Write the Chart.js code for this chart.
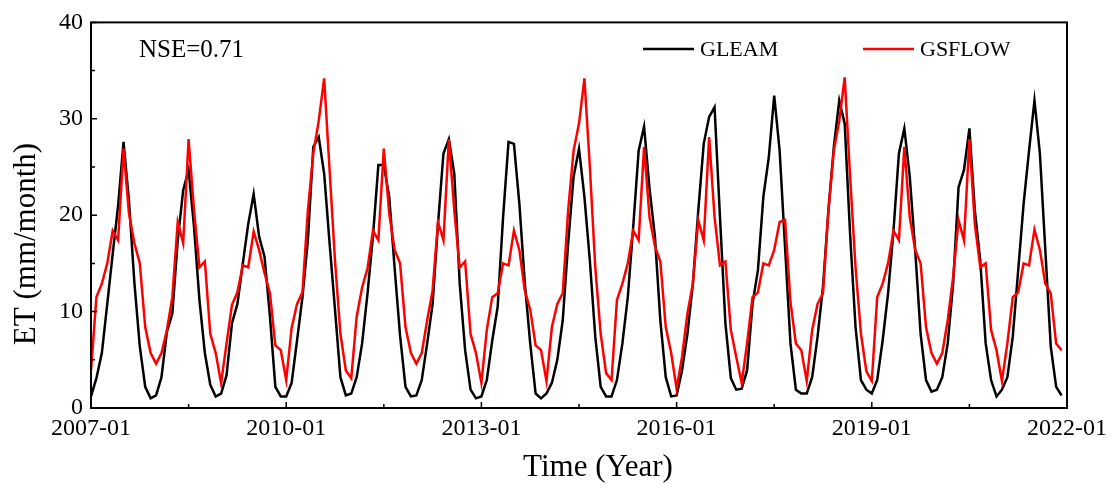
<!DOCTYPE html>
<html>
<head>
<meta charset="utf-8">
<title>ET GLEAM vs GSFLOW</title>
<script src="https://cdn.jsdelivr.net/npm/chart.js@4.4.1/dist/chart.umd.min.js"></script>
<style>
  html, body { margin: 0; padding: 0; background: #fff; }
  #wrap { width: 1113px; height: 488px; }
</style>
</head>
<body>
<div id="wrap"><canvas id="etChart" width="1113" height="488"></canvas></div>
<script>
// Monthly ET (mm/month), 2007-01 .. 2021-12, one row per year
const gleam = [
  1.2, 3.1, 5.7, 10.8, 16.0, 21.0, 27.6, 21.5, 13.0, 6.4, 2.2, 1.0,   // 2007
  1.3, 3.2, 7.9, 9.8, 17.4, 22.6, 24.7, 18.8, 11.2, 5.7, 2.4, 1.2,    // 2008
  1.5, 3.4, 8.8, 10.8, 15.0, 19.1, 22.2, 17.8, 15.7, 9.5, 2.2, 1.2,   // 2009
  1.2, 2.6, 7.0, 11.5, 17.4, 27.1, 28.1, 24.3, 17.1, 10.2, 3.2, 1.3,  // 2010
  1.5, 3.2, 6.7, 11.9, 17.8, 25.2, 25.2, 21.9, 14.5, 7.5, 2.2, 1.2,   // 2011
  1.3, 2.9, 6.7, 10.8, 19.1, 26.4, 27.9, 24.3, 12.9, 6.0, 1.9, 1.0,   // 2012
  1.2, 2.9, 7.0, 10.5, 19.8, 27.6, 27.4, 21.2, 13.0, 6.7, 1.5, 1.0,   // 2013
  1.5, 2.6, 5.0, 9.1, 17.1, 24.0, 26.9, 21.9, 15.3, 7.4, 2.2, 1.2,    // 2014
  1.2, 2.9, 6.7, 11.5, 18.8, 26.7, 29.2, 22.8, 17.8, 9.1, 3.2, 1.2,   // 2015
  1.3, 3.9, 7.7, 12.9, 20.5, 27.4, 30.2, 31.2, 19.8, 8.8, 3.1, 1.9,   // 2016
  2.0, 3.9, 10.8, 14.3, 21.9, 26.0, 32.4, 26.7, 16.7, 6.7, 1.9, 1.5,  // 2017
  1.5, 3.2, 7.4, 12.6, 20.5, 27.1, 31.9, 29.5, 18.0, 8.4, 2.9, 1.9,   // 2018
  1.5, 2.9, 7.0, 11.9, 18.4, 26.4, 29.0, 24.0, 16.4, 7.7, 2.9, 1.7,   // 2019
  1.9, 3.2, 6.7, 12.9, 22.9, 24.7, 29.0, 20.5, 15.3, 6.7, 2.9, 1.2,   // 2020
  1.9, 3.2, 7.4, 14.3, 21.2, 26.7, 31.9, 26.4, 16.4, 6.4, 2.2, 1.3    // 2021
];

const gsflow = [
  3.9, 11.5, 12.9, 15.0, 18.4, 17.4, 26.9, 20.2, 17.1, 15.0, 8.4, 5.7,  // 2007
  4.6, 5.7, 8.1, 11.5, 19.3, 17.1, 27.9, 20.5, 14.6, 15.2, 7.7, 5.7,    // 2008
  2.6, 6.7, 10.7, 12.0, 14.8, 14.6, 18.3, 16.4, 14.0, 11.9, 6.5, 6.0,   // 2009
  2.9, 8.3, 10.8, 12.0, 20.5, 26.4, 29.8, 34.2, 24.7, 15.3, 7.7, 3.9,   // 2010
  3.1, 9.5, 12.5, 14.5, 18.4, 17.4, 26.9, 20.2, 16.4, 15.0, 8.4, 5.7,   // 2011
  4.6, 5.7, 9.1, 12.2, 19.3, 17.4, 27.9, 20.5, 14.6, 15.2, 7.7, 5.7,    // 2012
  2.6, 8.1, 11.5, 11.9, 15.0, 14.8, 18.4, 16.4, 12.2, 10.2, 6.5, 6.0,   // 2013
  2.8, 8.4, 10.8, 11.9, 20.5, 26.7, 29.5, 34.2, 25.0, 14.6, 7.7, 3.6,   // 2014
  2.9, 11.2, 12.9, 15.0, 18.4, 17.4, 27.1, 19.8, 16.8, 15.2, 8.4, 5.7,  // 2015
  2.0, 5.3, 9.8, 12.9, 19.5, 17.4, 28.1, 19.8, 14.8, 15.2, 8.1, 5.3,    // 2016
  2.6, 6.7, 11.5, 12.0, 15.0, 14.8, 16.4, 19.3, 19.5, 11.0, 6.7, 6.0,   // 2017
  2.8, 8.1, 10.8, 11.9, 20.5, 26.7, 29.8, 34.3, 24.0, 14.6, 7.7, 3.8,   // 2018
  2.8, 11.5, 12.9, 15.0, 18.4, 17.4, 27.1, 19.8, 16.4, 15.0, 8.4, 5.7,  // 2019
  4.6, 5.7, 9.1, 13.6, 19.5, 17.4, 27.9, 19.1, 14.6, 15.0, 8.1, 6.0,    // 2020
  2.8, 6.7, 11.5, 12.0, 15.0, 14.8, 18.5, 16.4, 12.9, 11.9, 6.7, 6.0    // 2021
];

// x axis is month index from 2007-01; labels every 3 years
const tickLabels = ['2007-01', '2010-01', '2013-01', '2016-01', '2019-01', '2022-01'];
const xMajor = [0, 36, 72, 108, 144, 180];
const xMinor = [18, 54, 90, 126, 162];
const yMajor = [0, 10, 20, 30, 40];
const yMinor = [5, 15, 25, 35];
const nseText = 'NSE=0.71';

const serif = '"Liberation Serif", "Times New Roman", serif';

// frame, inward ticks, legend, NSE and axis titles
const decorations = {
  id: 'decorations',
  afterDatasetsDraw(chart) {
    const { ctx, chartArea: a, scales: { x, y } } = chart;
    ctx.save();
    ctx.strokeStyle = '#000';
    ctx.lineWidth = 1.5;
    ctx.beginPath();
    yMajor.forEach(v => { const p = y.getPixelForValue(v); ctx.moveTo(a.left, p); ctx.lineTo(a.left + 6, p); });
    yMinor.forEach(v => { const p = y.getPixelForValue(v); ctx.moveTo(a.left, p); ctx.lineTo(a.left + 4, p); });
    xMajor.forEach(v => { const p = x.getPixelForValue(v); ctx.moveTo(p, a.bottom); ctx.lineTo(p, a.bottom - 6); });
    xMinor.forEach(v => { const p = x.getPixelForValue(v); ctx.moveTo(p, a.bottom); ctx.lineTo(p, a.bottom - 4); });
    ctx.stroke();

    ctx.lineWidth = 2;
    ctx.strokeRect(a.left, a.top, a.right - a.left, a.bottom - a.top);

    ctx.fillStyle = '#000';
    ctx.textBaseline = 'middle';
    ctx.textAlign = 'left';
    ctx.font = '25px ' + serif;
    ctx.fillText(nseText, 139, 50);

    // legend
    const legendX = [643, 863];
    ctx.font = '22px ' + serif;
    chart.data.datasets.forEach((ds, i) => {
      ctx.strokeStyle = ds.borderColor;
      ctx.lineWidth = 2.5;
      ctx.beginPath();
      ctx.moveTo(legendX[i], 49);
      ctx.lineTo(legendX[i] + 51, 49);
      ctx.stroke();
      ctx.fillText(ds.label, legendX[i] + 57, 50);
    });

    // axis titles
    ctx.font = '31px ' + serif;
    ctx.textAlign = 'center';
    ctx.fillText('Time (Year)', 598, 468);
    ctx.translate(27, 244);
    ctx.rotate(-Math.PI / 2);
    ctx.fillText('ET (mm/month)', 0, 0);
    ctx.restore();
  }
};

new Chart(document.getElementById('etChart'), {
  type: 'line',
  data: {
    datasets: [
      {
        label: 'GLEAM',
        data: gleam.map((v, i) => ({ x: i, y: v })),
        borderColor: '#000000',
        borderWidth: 2.5,
        pointRadius: 0,
        tension: 0,
        order: 1
      },
      {
        label: 'GSFLOW',
        data: gsflow.map((v, i) => ({ x: i, y: v })),
        borderColor: '#ff0000',
        borderWidth: 2.5,
        pointRadius: 0,
        tension: 0,
        order: 0
      }
    ]
  },
  options: {
    responsive: false,
    animation: false,
    layout: { padding: { top: 22, right: 45, left: 0, bottom: 0 } },
    plugins: {
      legend: { display: false },
      tooltip: { enabled: false }
    },
    scales: {
      x: {
        type: 'linear',
        min: 0,
        max: 180,
        afterBuildTicks: s => { s.ticks = xMajor.map(v => ({ value: v })); },
        afterFit: s => { s.height = 80; },
        grid: { display: false, drawTicks: false },
        border: { display: false },
        ticks: {
          padding: 6,
          maxRotation: 0,
          autoSkip: false,
          color: '#000',
          font: { family: serif, size: 24 },
          callback: v => tickLabels[xMajor.indexOf(v)]
        }
      },
      y: {
        min: 0,
        max: 40,
        afterFit: s => { s.width = 91; },
        grid: { display: false, drawTicks: false },
        border: { display: false },
        ticks: {
          stepSize: 10,
          padding: 8,
          color: '#000',
          font: { family: serif, size: 24 }
        }
      }
    }
  },
  plugins: [decorations]
});
</script>
</body>
</html>
